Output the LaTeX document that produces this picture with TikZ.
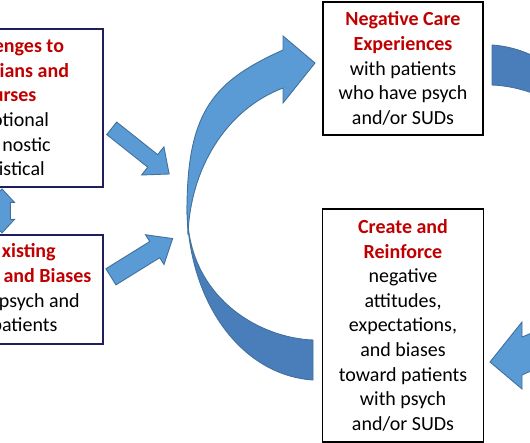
\documentclass[tikz,border=0pt]{standalone}
\usepackage{fontspec}
\setmainfont{Carlito}
\usepackage{xcolor}
\usetikzlibrary{positioning,calc}
\definecolor{rojotit}{HTML}{C00000}
\definecolor{azulclaro}{HTML}{5B9BD5}
\definecolor{azuloscuro}{HTML}{4A7EBB}
\definecolor{azulborde}{HTML}{41719C}
\definecolor{marino}{HTML}{1F1F5F}
\newcommand{\tit}[1]{\textcolor{rojotit}{\bfseries #1}}
\newcommand{\hueco}[1]{\rule{#1}{0pt}}
\tikzset{
  caja/.style={rectangle, draw=black, line width=1.8pt, align=center, inner sep=0pt,
    font=\fontsize{20}{24.6}\selectfont},
  cajam/.style={caja, draw=marino},
  textoizq/.style={align=right, inner sep=0pt, anchor=east, font=\fontsize{20}{24.6}\selectfont},
  flechaazul/.style={fill=azulclaro, draw=azulborde, line width=0.9pt, line join=miter},
  pics/flechab/.style n args={3}{code={
    \filldraw[flechaazul] (0,-#2) -- (#1-21,-#2) -- (#1-21,-#3) -- (#1,0)
      -- (#1-21,#3) -- (#1-21,#2) -- (0,#2) -- cycle;}},
  pics/arcoflecha/.style={code={
    \filldraw[flechaazul, fill=azuloscuro] (313,340) .. controls (260,338) and (195,300) .. (188,225)
      -- (187,205) .. controls (187,300) and (240,375) .. (313,380) -- cycle;
    \filldraw[flechaazul] (283,88) -- (283,103) -- (315,63) -- (283,36) -- (283,50)
      .. controls (214.7,80.8) and (187,110) .. (187,210) -- (188,235)
      .. controls (190,170) and (225,110) .. (283,88) -- cycle;}},
}

\begin{document}
\begin{tikzpicture}[x=1pt, y=-1pt]
  \useasboundingbox (0,0) rectangle (530,442);
  \clip (0,0) rectangle (530,442);
  \node[cajam, minimum width=190pt, minimum height=158pt] (retos) at (8,108) {};
  \node[textoizq] (retostxt) at ($(retos.east)+(-34.7,0)$)
    {\tit{enges to}\hueco{5pt}\\\tit{ians and}\\\tit{urses}\hueco{32.6pt}\\
     otional\hueco{20pt}\\nostic\hueco{18.3pt}\\istical\hueco{24.3pt}};
  \node[cajam, minimum width=190pt, minimum height=109pt, below=46pt of retos] (prejuicios) {};
  \node[textoizq] (prejuiciostxt) at ($(prejuicios.east)+(-12.3,0)$)
    {\tit{xisting}\hueco{35.7pt}\\\tit{and Biases}\\psych and\hueco{11.7pt}\\patients\hueco{34pt}};
  \node[caja, minimum width=160pt, minimum height=133pt] (expneg) at (403,68.5)
    {\tit{Negative Care}\\\tit{Experiences}\\with patients\\who have psych\\and/or SUDs};
  \node[caja, minimum width=161pt, minimum height=233pt, below=72pt of expneg] (refuerzo)
    {\tit{Create and}\\\tit{Reinforce}\\negative\\attitudes,\\expectations,\\and biases\\
     toward patients\\with psych\\and/or SUDs};
  \coordinate (dsup) at ($(retos.south)+(-6,1)$);
  \filldraw[flechaazul] (dsup) -- ++(12.5,13.5) -- ++(-4.1,0) -- ++(0,17) -- ++(4.1,0)
    -- ++(-12.5,13.5) -- ++(-12.5,-13.5) -- ++(4.1,0) -- ++(0,-17) -- ++(-4.1,0) -- cycle;
  \pic[rotate=-38.5] at ($(retos.east)+(7.8,20.3)$) {flechab={73.4}{8}{18}};
  \pic[rotate=31.8] at ($(prejuicios.east)+(7,-12.5)$) {flechab={72.6}{9.5}{17.5}};
  \pic at (0,0) {arcoflecha};
  \pic[rotate=180] at (805,425) {arcoflecha};
\end{tikzpicture}
\end{document}
